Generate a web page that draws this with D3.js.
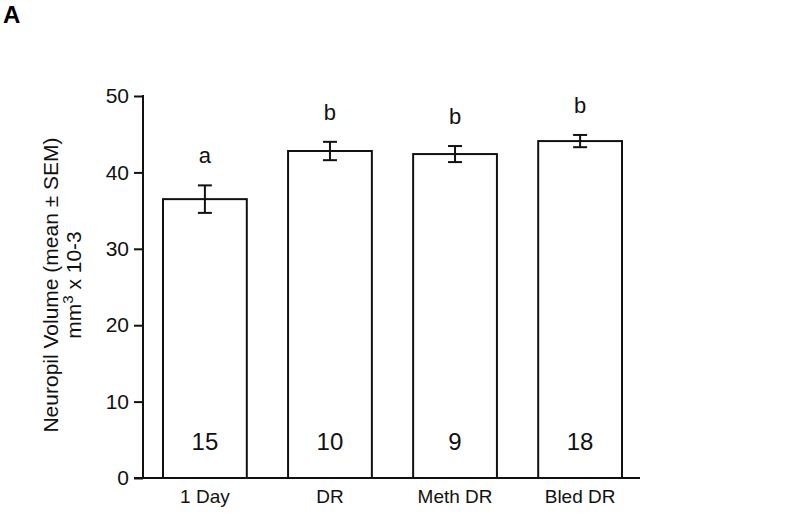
<!DOCTYPE html>
<html>
<head>
<meta charset="utf-8">
<script src="https://cdn.jsdelivr.net/npm/d3@7"></script>
<style>
	body { margin: 0; background: #fff; }
	svg { font-family: "Liberation Sans", Arial, sans-serif; }
</style>
</head>
<body>
<svg id="chart" width="800" height="519"></svg>
<script>
// values
var categories = ["1 Day", "DR", "Meth DR", "Bled DR"];
var means = [36.5, 42.8, 42.4, 44.1];
var sems = [1.8, 1.2, 1.05, 0.8];
var groupLetters = ["a", "b", "b", "b"];
var counts = [15, 10, 9, 18];
var yTicks = [0, 10, 20, 30, 40, 50];

var svg = d3.select("#chart");

var y = d3.scaleLinear()
	.domain([0, 50])
	.range([478, 96]);

var x = d3.scaleBand()
	.domain(categories)
	.range([163, 622])
	.paddingInner(0.33)
	.paddingOuter(0);

// panel letter
svg.append("text")
	.attr("x", 3)
	.attr("y", 23)
	.attr("font-size", 24)
	.attr("font-weight", "bold")
	.text("A");

// y axis
var yAxis = svg.append("g")
	.attr("transform", "translate(143,0)")
	.call(d3.axisLeft(y).tickValues(yTicks).tickSize(9).tickSizeOuter(0).tickPadding(5));
yAxis.select(".domain").remove();
yAxis.selectAll(".tick line").attr("stroke", "#111").attr("stroke-width", 2);
yAxis.selectAll(".tick text")
	.attr("font-size", 21)
	.attr("fill", "#111")
	.attr("font-family", "Liberation Sans, Arial, sans-serif");
svg.append("line")
	.attr("x1", 143).attr("x2", 143)
	.attr("y1", y(50) - 1).attr("y2", y(0))
	.attr("stroke", "#111").attr("stroke-width", 2);

// x axis line
svg.append("line")
	.attr("x1", 134).attr("x2", 640)
	.attr("y1", y(0)).attr("y2", y(0))
	.attr("stroke", "#111").attr("stroke-width", 2);

var xAxis = svg.append("g")
	.attr("transform", "translate(0," + y(0) + ")")
	.call(d3.axisBottom(x).tickSize(0).tickPadding(12));
xAxis.select(".domain").remove();
xAxis.selectAll(".tick text")
	.attr("font-size", 19)
	.attr("fill", "#111")
	.attr("font-family", "Liberation Sans, Arial, sans-serif");

// y label (two lines)
var yLabel = svg.append("text")
	.attr("transform", "translate(0," + 285 + ") rotate(-90)")
	.attr("text-anchor", "middle")
	.attr("font-size", 21)
	.attr("fill", "#111");
yLabel.append("tspan")
	.attr("x", 0).attr("y", 58)
	.text("Neuropil Volume (mean \u00b1 SEM)");
var l2 = yLabel.append("tspan")
	.attr("x", 0).attr("y", 81);
l2.append("tspan").text("mm");
l2.append("tspan").attr("dy", -8).attr("font-size", 15).text("3");
l2.append("tspan").attr("dy", 8).text(" x 10-3");

// bars
var groups = svg.selectAll(".bar")
	.data(categories)
	.enter().append("g")
	.attr("class", "bar");

groups.append("rect")
	.attr("x", function(d) { return x(d); })
	.attr("width", x.bandwidth())
	.attr("y", function(d, i) { return y(means[i]); })
	.attr("height", function(d, i) { return y(0) - y(means[i]); })
	.attr("fill", "#fff")
	.attr("stroke", "#111")
	.attr("stroke-width", 2);

// error bars
var cx = function(d) { return x(d) + x.bandwidth() / 2; };
groups.append("line")
	.attr("x1", cx).attr("x2", cx)
	.attr("y1", function(d, i) { return y(means[i] + sems[i]); })
	.attr("y2", function(d, i) { return y(means[i] - sems[i]); })
	.attr("stroke", "#111").attr("stroke-width", 2);
[1, -1].forEach(function(sign) {
	groups.append("line")
		.attr("x1", function(d) { return cx(d) - 7; })
		.attr("x2", function(d) { return cx(d) + 7; })
		.attr("y1", function(d, i) { return y(means[i] + sign * sems[i]); })
		.attr("y2", function(d, i) { return y(means[i] + sign * sems[i]); })
		.attr("stroke", "#111").attr("stroke-width", 2);
});

// significance letters
groups.append("text")
	.attr("x", cx)
	.attr("y", function(d, i) { return y(means[i] + sems[i]) - 22; })
	.attr("text-anchor", "middle")
	.attr("font-size", 22)
	.attr("fill", "#111")
	.text(function(d, i) { return groupLetters[i]; });

// n counts
groups.append("text")
	.attr("x", cx)
	.attr("y", y(0) - 28)
	.attr("text-anchor", "middle")
	.attr("font-size", 24)
	.attr("fill", "#111")
	.text(function(d, i) { return counts[i]; });
</script>
</body>
</html>
